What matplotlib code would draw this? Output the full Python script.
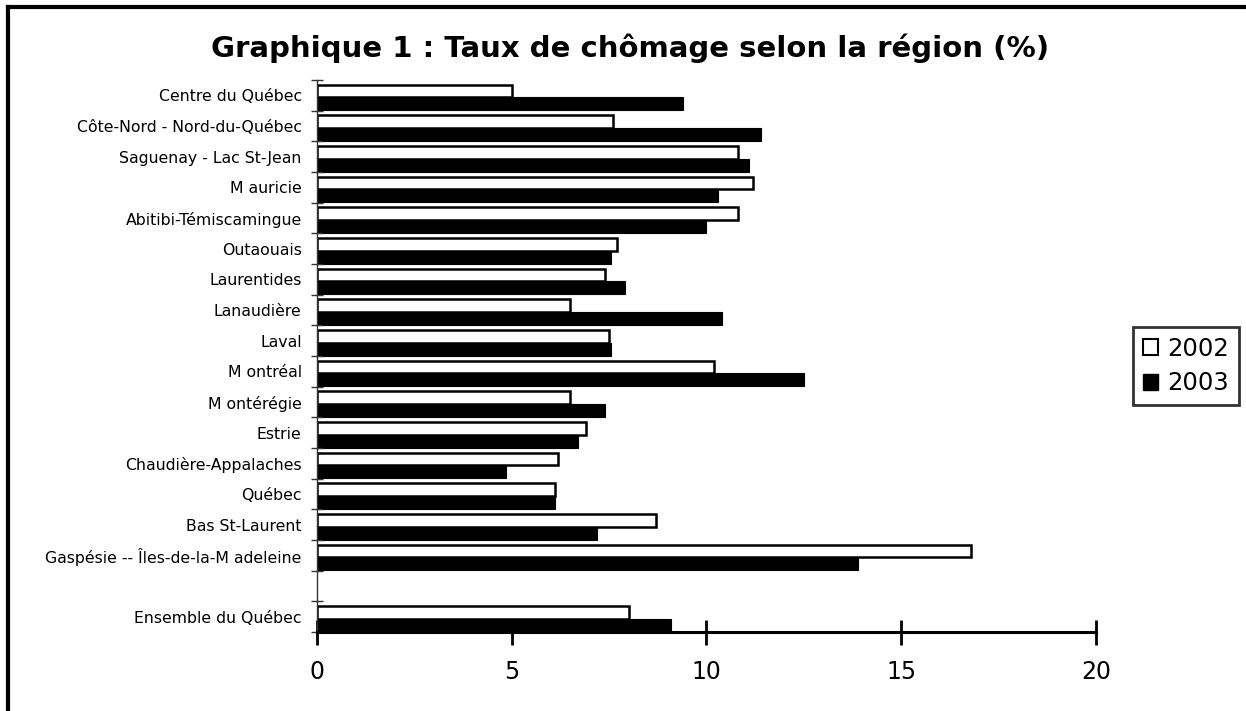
import matplotlib
matplotlib.use("Agg")
import matplotlib.pyplot as plt
from matplotlib.lines import Line2D
from matplotlib.patches import Patch
import numpy as np

plt.rcParams['font.family'] = ['DejaVu Sans']

# Categories from bottom to top ("" is the blank gap slot)
categories = ["Ensemble du Québec", "", "Gaspésie -- Îles-de-la-M adeleine", "Bas St-Laurent",
              "Québec", "Chaudière-Appalaches", "Estrie", "M ontérégie", "M ontréal", "Laval",
              "Lanaudière", "Laurentides", "Outaouais", "Abitibi-Témiscamingue", "M auricie",
              "Saguenay - Lac St-Jean", "Côte-Nord - Nord-du-Québec", "Centre du Québec"]
values_2002 = [8.0, None, 16.8, 8.7, 6.1, 6.2, 6.9, 6.5, 10.2, 7.5,
               6.5, 7.4, 7.7, 10.8, 11.2, 10.8, 7.6, 5.0]
values_2003 = [9.1, None, 13.9, 7.2, 6.1, 4.85, 6.7, 7.4, 12.5, 7.55,
               10.4, 7.9, 7.55, 10.0, 10.3, 11.1, 11.4, 9.4]
series_labels = ["2002", "2003"]
xticks = [0, 5, 10, 15, 20]

fig = plt.figure(figsize=(12.46, 7.11), dpi=100)
ax = fig.add_axes([317/1246, 1 - 632/711, (1096 - 317)/1246, (632 - 80)/711])

pos = np.arange(len(categories))
h = 0.42
for i, (a, b) in enumerate(zip(values_2002, values_2003)):
    if a is not None:
        ax.barh(pos[i] + 0.14, a, height=h, color="white", edgecolor="black", linewidth=1.8)
    if b is not None:
        ax.barh(pos[i] - 0.28, b, height=h, color="black", edgecolor="black", linewidth=0.8)

ax.set_xlim(0, 20)
ax.set_ylim(-0.5, len(categories) - 0.5)

# Y ticks at boundaries, labels at centers
ax.set_yticks(np.arange(-0.5, len(categories)), minor=False)
ax.set_yticklabels([])
ax.set_yticks(pos, minor=True)
ax.set_yticklabels(categories, minor=True, fontsize=11.3)
ax.tick_params(axis='y', which='major', direction='inout', length=8, width=1, color='#333333')
ax.tick_params(axis='y', which='minor', length=0, pad=11)

ax.set_xticks(xticks)
ax.set_xticklabels([str(t) for t in xticks], fontsize=17)
ax.tick_params(axis='x', which='major', direction='inout', length=18, width=2, pad=11)

for s in ['top', 'right']:
    ax.spines[s].set_visible(False)
ax.spines['left'].set_linewidth(1.0)
ax.spines['left'].set_color('#333333')
ax.spines['bottom'].set_linewidth(2.2)

fig.text(0.506, 0.932, "Graphique 1 : Taux de chômage selon la région (%)",
         ha='center', va='center', fontsize=21, fontweight='bold')

handles = [Patch(facecolor='white', edgecolor='black', linewidth=1.5),
           Patch(facecolor='black', edgecolor='black')]
leg = fig.legend(handles, series_labels, loc='center', bbox_to_anchor=(1186/1246, 1 - 366/711),
                 fontsize=17.5, frameon=True, fancybox=False, edgecolor='black',
                 handlelength=0.6, handleheight=0.6, handletextpad=0.4,
                 borderpad=0.4, labelspacing=0.45, borderaxespad=0)
leg.get_frame().set_linewidth(2)

# Outer border (top and left visible)
fig.add_artist(Line2D([8/1246, 1.0], [1 - 7/711, 1 - 7/711], color='black', linewidth=3,
                      transform=fig.transFigure))
fig.add_artist(Line2D([8/1246, 8/1246], [0.0, 1 - 7/711], color='black', linewidth=3,
                      transform=fig.transFigure))

fig.savefig("out.png", dpi=100)
